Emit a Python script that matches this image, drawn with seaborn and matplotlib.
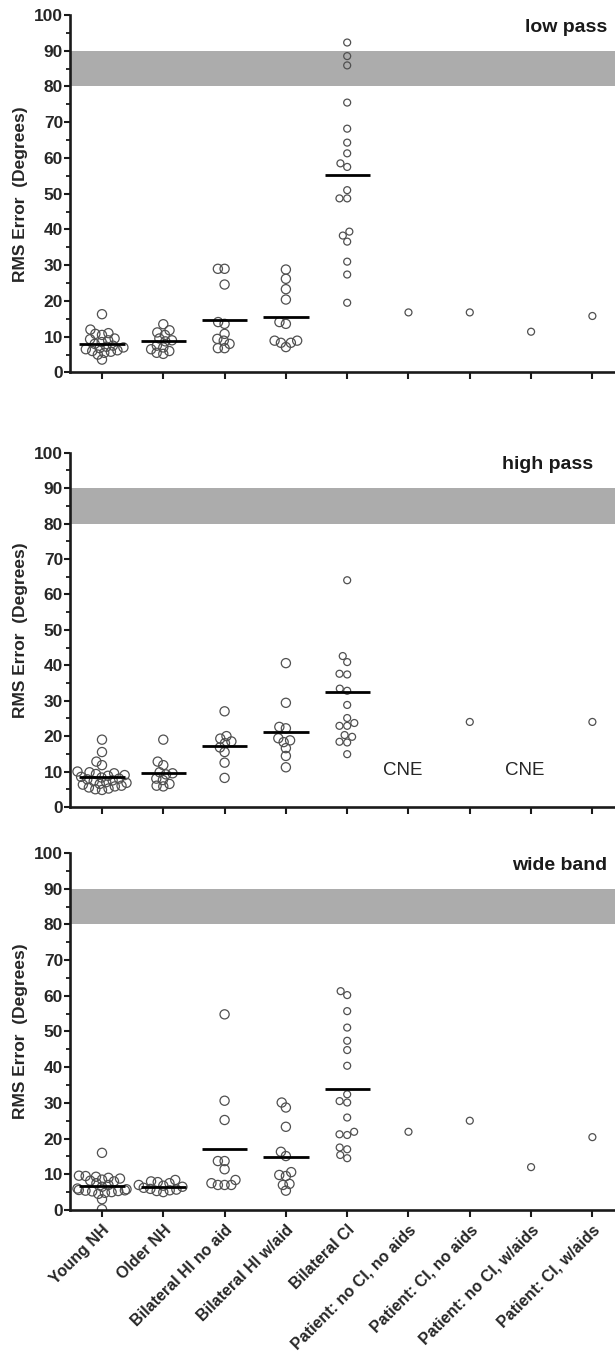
import matplotlib
matplotlib.use('Agg')
import matplotlib.pyplot as plt
from matplotlib.ticker import MultipleLocator
import pandas as pd
import seaborn as sns

groups = ["Young NH", "Older NH", "Bilateral HI no aid", "Bilateral HI w/aid",
          "Bilateral CI", "Patient: no CI, no aids", "Patient: CI, no aids",
          "Patient: no CI, w/aids", "Patient: CI, w/aids"]
panel_titles = ["low pass", "high pass", "wide band"]

# low pass
lp_young = [16.3, 12.0, 11.0, 10.8, 10.5, 9.5, 9.3, 9.0, 8.5, 8.0, 7.5,
            7.2, 7.0, 6.8, 6.5, 6.2, 6.0, 5.8, 5.5, 5.0, 3.6]
lp_older = [13.5, 11.8, 11.2, 10.5, 9.5, 9.0, 8.7, 7.5, 7.0, 6.5, 6.0, 5.5, 5.2]
lp_hi_noaid = [29.0, 29.0, 24.6, 14.1, 13.6, 10.8, 9.4, 8.9, 8.0, 6.8, 6.8]
lp_hi_aid = [28.8, 26.2, 23.3, 20.4, 14.1, 13.6, 8.9, 8.3, 7.1, 8.3, 8.9]
lp_ci = [92.3, 88.5, 85.9, 75.5, 68.2, 64.3, 61.3, 58.5, 57.5, 51.0, 48.7,
         48.7, 39.4, 38.3, 36.6, 31.0, 27.4, 19.5]
lp_patients = [16.8, 16.8, 11.4, 15.8]
lp_means = [8.0, 8.9, 14.7, 15.4, 55.2]

# high pass
hp_young = [19.0, 15.5, 12.8, 11.8, 10.0, 9.8, 9.5, 9.3, 9.0, 8.8, 8.5, 8.3,
            8.0, 7.8, 7.5, 7.3, 7.0, 6.8, 6.5, 6.3, 6.0, 5.8, 5.5, 5.2, 5.0, 4.8]
hp_older = [19.0, 12.8, 11.8, 9.8, 9.5, 9.2, 8.0, 7.6, 6.5, 6.0, 5.8]
hp_hi_noaid = [27.0, 20.0, 19.3, 18.5, 18.0, 16.8, 15.5, 12.5, 8.2]
hp_hi_aid = [40.6, 29.4, 22.6, 22.2, 19.4, 18.8, 18.3, 16.6, 14.4, 11.2]
hp_ci = [64.0, 42.6, 40.9, 37.6, 37.4, 33.4, 32.8, 28.8, 25.1, 23.7, 22.9,
         22.9, 20.3, 19.8, 18.4, 18.2, 14.9]
hp_patients = [None, 24.0, None, 24.0]
hp_means = [8.4, 9.5, 17.2, 21.2, 32.5]
hp_cne = ["Patient: no CI, no aids", "Patient: no CI, w/aids"]

# wide band
wb_young = [16.0, 9.6, 9.5, 9.3, 9.0, 8.8, 8.5, 8.2, 8.0, 7.5, 7.0, 6.5, 6.0,
            5.8, 5.6, 5.5, 5.4, 5.3, 5.2, 5.0, 4.8, 4.5, 3.0, 0.2]
wb_older = [8.4, 8.0, 7.8, 7.5, 7.0, 6.8, 6.5, 6.2, 5.9, 5.7, 5.5, 5.3, 5.0]
wb_hi_noaid = [54.8, 30.6, 25.2, 13.7, 13.7, 11.4, 8.4, 7.0, 7.0, 7.0, 7.5]
wb_hi_aid = [30.1, 28.7, 23.3, 16.3, 15.1, 10.6, 9.8, 9.5, 7.3, 7.0, 5.4]
wb_ci = [61.3, 60.2, 55.7, 51.1, 47.4, 44.8, 40.4, 32.4, 30.5, 30.1, 25.9,
         21.2, 21.0, 21.9, 17.0, 17.5, 14.5, 15.4]
wb_patients = [21.9, 25.0, 12.0, 20.4]
wb_means = [6.7, 6.4, 17.0, 14.9, 33.8]

# range of chance performance
chance_lo, chance_hi = 80, 90


def make_df(young, older, noaid, aid, ci, patients):
    rows = []
    for g, vals in zip(groups[:5], [young, older, noaid, aid, ci]):
        rows += [(g, v) for v in vals]
    for g, v in zip(groups[5:], patients):
        if v is not None:
            rows.append((g, v))
    return pd.DataFrame(rows, columns=["group", "value"])


panels = [
    (make_df(lp_young, lp_older, lp_hi_noaid, lp_hi_aid, lp_ci, lp_patients), lp_means, []),
    (make_df(hp_young, hp_older, hp_hi_noaid, hp_hi_aid, hp_ci, hp_patients), hp_means, hp_cne),
    (make_df(wb_young, wb_older, wb_hi_noaid, wb_hi_aid, wb_ci, wb_patients), wb_means, []),
]

sns.set_style("ticks")
plt.rcParams['font.family'] = ['Liberation Sans', 'DejaVu Sans']

fig = plt.figure(figsize=(6.15, 13.51), dpi=100)
# axes boxes [left, bottom, width, height]
boxes = [[0.1138, 0.7243, 0.8862, 0.2646],
         [0.1138, 0.4027, 0.8862, 0.2622],
         [0.1138, 0.1044, 0.8862, 0.2642]]
title_x = [0.985, 0.96, 0.985]

big = groups[:4]
# (swarm layout size, drawn size) -- circles overlap a little like in the original
sizes = {"big": (3.7, 6.6), "small": (4.4, 5.0)}
swarm_colls = []

for i, (df, means, cne) in enumerate(panels):
    ax = fig.add_axes(boxes[i])
    ax.axhspan(chance_lo, chance_hi, color="#acacac", zorder=0, lw=0)

    for key, sub in [("big", df[df.group.isin(big)]), ("small", df[~df.group.isin(big)])]:
        n0 = len(ax.collections)
        sns.swarmplot(data=sub, x="group", y="value", order=groups,
                      size=sizes[key][0], color="white", edgecolor="#505050",
                      linewidth=0.9, ax=ax)
        for coll in ax.collections[n0:]:
            coll.set_facecolor("none")
            coll.set_zorder(2)
            swarm_colls.append((coll, sizes[key][1]))

    ax.hlines(means, [k - 0.37 for k in range(5)], [k + 0.37 for k in range(5)],
              color="black", lw=2, zorder=3)

    for g in cne:
        ax.text(groups.index(g) - 0.1, 10.4, "CNE", ha="center", va="center",
                fontsize=13.5)

    ax.text(title_x[i], 0.966, panel_titles[i], transform=ax.transAxes,
            ha="right", va="center", fontsize=14, fontweight="bold", color="#1a1a1a")

    ax.set_xlim(-0.522, 8.369)
    ax.set_ylim(0, 100)
    ax.yaxis.set_major_locator(MultipleLocator(10))
    ax.yaxis.set_minor_locator(MultipleLocator(5))
    sns.despine(ax=ax)
    for s in ["left", "bottom"]:
        ax.spines[s].set_linewidth(1.9)
        ax.spines[s].set_color("#1a1a1a")
    ax.tick_params(axis="y", which="major", length=4, width=1.5, pad=1,
                   labelsize=12.5, color="#1a1a1a")
    ax.tick_params(axis="y", which="minor", length=3, width=1.3, color="#1a1a1a")
    ax.tick_params(axis="x", length=5, width=1.5, color="#1a1a1a")
    for lab in ax.get_yticklabels():
        lab.set_fontweight("bold")

    ax.set_xlabel("")
    ax.set_ylabel("RMS Error  (Degrees)", fontsize=12.5, fontweight="bold")
    ax.yaxis.set_label_coords(-0.077, 0.5)

    if i < 2:
        ax.tick_params(axis="x", labelbottom=False)
    else:
        ax.set_xticks(range(len(groups)))
        ax.set_xticklabels(groups, rotation=45, ha="right", rotation_mode="anchor",
                           fontsize=11.5, fontweight="bold")
        ax.tick_params(axis="x", pad=4)

# lay the swarms out once with the smaller size, then freeze them and enlarge
fig.canvas.draw()
for coll, s in swarm_colls:
    coll.__dict__.pop("draw", None)
    coll.set_sizes([s ** 2] * len(coll.get_offsets()))

fig.savefig("out.png", dpi=100)
